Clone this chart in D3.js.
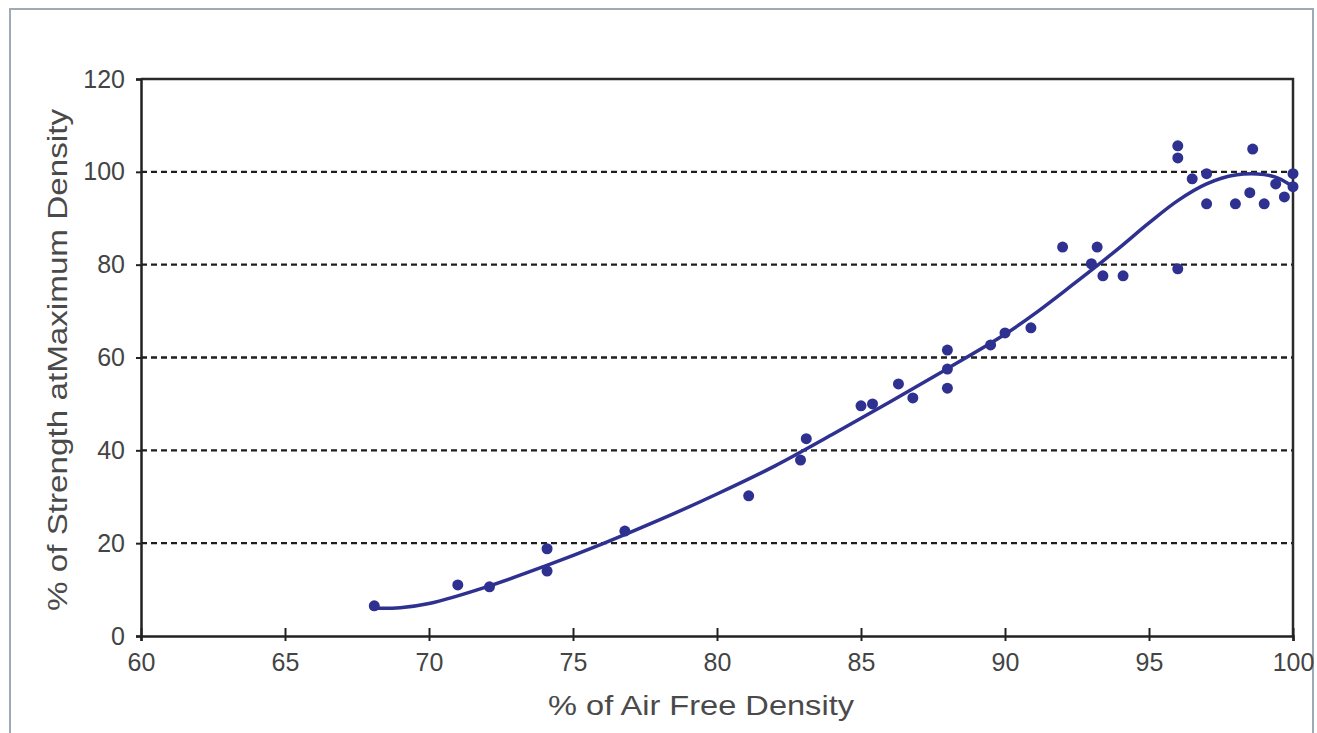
<!DOCTYPE html>
<html>
<head>
<meta charset="utf-8">
<script src="https://cdn.jsdelivr.net/npm/d3@7/dist/d3.min.js"></script>
<style>
  html, body { margin: 0; padding: 0; background: #ffffff; }
  svg { display: block; }
  text { font-family: "Liberation Sans", Arial, Helvetica, sans-serif; }
</style>
</head>
<body>
<script>
// Measured samples: % of air free density vs % of strength at maximum density
const densityPct = [68.1, 71.0, 72.1, 74.1, 74.1, 76.8, 81.1, 82.9, 83.1, 85.0, 85.4, 86.3, 86.8,
  88.0, 88.0, 88.0, 89.5, 90.0, 90.9, 92.0, 93.0, 93.2, 93.4, 94.1, 96.0, 96.0, 96.0, 96.5,
  97.0, 97.0, 98.0, 98.5, 98.6, 99.0, 99.4, 99.7, 100.0, 100.0];
const strengthPct = [6.5, 11.0, 10.6, 18.8, 14.0, 22.6, 30.2, 37.9, 42.5, 49.6, 50.0, 54.3, 51.3,
  61.6, 53.4, 57.5, 62.7, 65.3, 66.4, 83.8, 80.2, 83.8, 77.6, 77.6, 79.1, 105.6, 103.0, 98.5,
  99.6, 93.1, 93.1, 95.5, 104.9, 93.1, 97.4, 94.6, 99.6, 96.8];

// Fitted trend curve
const trendX = [68, 69, 70, 72, 74, 76, 78, 80, 82, 84, 86, 88, 90, 91, 92, 93, 94, 95, 96, 97, 98, 99, 99.5, 100];
const trendY = [6, 6.1, 7, 10.6, 15, 19.8, 25, 30.6, 36.6, 43.4, 50.4, 57.6, 65, 69.3, 74, 78.8, 83.8, 89, 93.8, 97.4, 99.3, 99.4, 98.6, 96.8];

// Axis ticks
const xTicks = [60, 65, 70, 75, 80, 85, 90, 95, 100];
const yTicks = [0, 20, 40, 60, 80, 100, 120];
const gridValues = [20, 40, 60, 80, 100];

const W = 1317, H = 733;
const plot = { left: 141, right: 1293, top: 79, bottom: 636 };
const ink = "#2e3190";

const svg = d3.select("body").append("svg").attr("width", W).attr("height", H);

// outer frame
svg.append("rect")
  .attr("x", 10).attr("y", 9)
  .attr("width", 1303).attr("height", 730)
  .attr("fill", "#ffffff")
  .attr("stroke", "#9eaab4").attr("stroke-width", 2);

const x = d3.scaleLinear().domain([60, 100]).range([plot.left, plot.right]);
const y = d3.scaleLinear().domain([0, 120]).range([plot.bottom, plot.top]);

// dashed gridlines
svg.append("g").selectAll("line").data(gridValues).join("line")
  .attr("x1", plot.left).attr("x2", plot.right)
  .attr("y1", d => y(d)).attr("y2", d => y(d))
  .attr("stroke", "#1e1e1e").attr("stroke-width", 2.4)
  .attr("stroke-dasharray", "6,4");

// plot box (top and right edges)
svg.append("path")
  .attr("d", `M${plot.left},${plot.top}H${plot.right}V${plot.bottom}`)
  .attr("fill", "none").attr("stroke", "#2a2a2a").attr("stroke-width", 2.5);

// x axis
const xAxis = svg.append("g").attr("transform", `translate(0,${plot.bottom})`)
  .call(d3.axisBottom(x).tickValues(xTicks).tickSize(5).tickPadding(12).tickFormat(d3.format("d")));
xAxis.select(".domain").attr("stroke", "#222").attr("stroke-width", 2.5);
xAxis.selectAll(".tick line").clone().attr("y2", -8);
xAxis.selectAll(".tick line").attr("stroke", "#222").attr("stroke-width", 2);
xAxis.selectAll(".tick text").attr("font-size", 25).attr("fill", "#444");

// y axis
const yAxis = svg.append("g").attr("transform", `translate(${plot.left},0)`)
  .call(d3.axisLeft(y).tickValues(yTicks).tickSize(5).tickPadding(11).tickFormat(d3.format("d")));
yAxis.select(".domain").attr("stroke", "#222").attr("stroke-width", 2.5);
yAxis.selectAll(".tick line").attr("stroke", "#222").attr("stroke-width", 2);
yAxis.selectAll(".tick text").attr("font-size", 25).attr("fill", "#444");

// axis titles
svg.append("text")
  .attr("x", 701).attr("y", 715)
  .attr("text-anchor", "middle").attr("font-size", 28).attr("fill", "#4a4a4a")
  .attr("textLength", 306).attr("lengthAdjust", "spacingAndGlyphs")
  .text("% of Air Free Density");

svg.append("text")
  .attr("transform", "translate(67,360) rotate(-90)")
  .attr("text-anchor", "middle").attr("font-size", 27).attr("fill", "#4a4a4a")
  .attr("textLength", 502).attr("lengthAdjust", "spacingAndGlyphs")
  .text("% of Strength atMaximum Density");

// trend curve
const line = d3.line()
  .x(d => x(d[0])).y(d => y(d[1]))
  .curve(d3.curveCatmullRom.alpha(0.5));
svg.append("path")
  .datum(d3.zip(trendX, trendY))
  .attr("d", line)
  .attr("fill", "none").attr("stroke", ink).attr("stroke-width", 3.5)
  .attr("stroke-linecap", "round");

// sample points
svg.append("g").selectAll("circle").data(d3.zip(densityPct, strengthPct)).join("circle")
  .attr("cx", d => x(d[0])).attr("cy", d => y(d[1]))
  .attr("r", 5.5).attr("fill", ink);
</script>
</body>
</html>
